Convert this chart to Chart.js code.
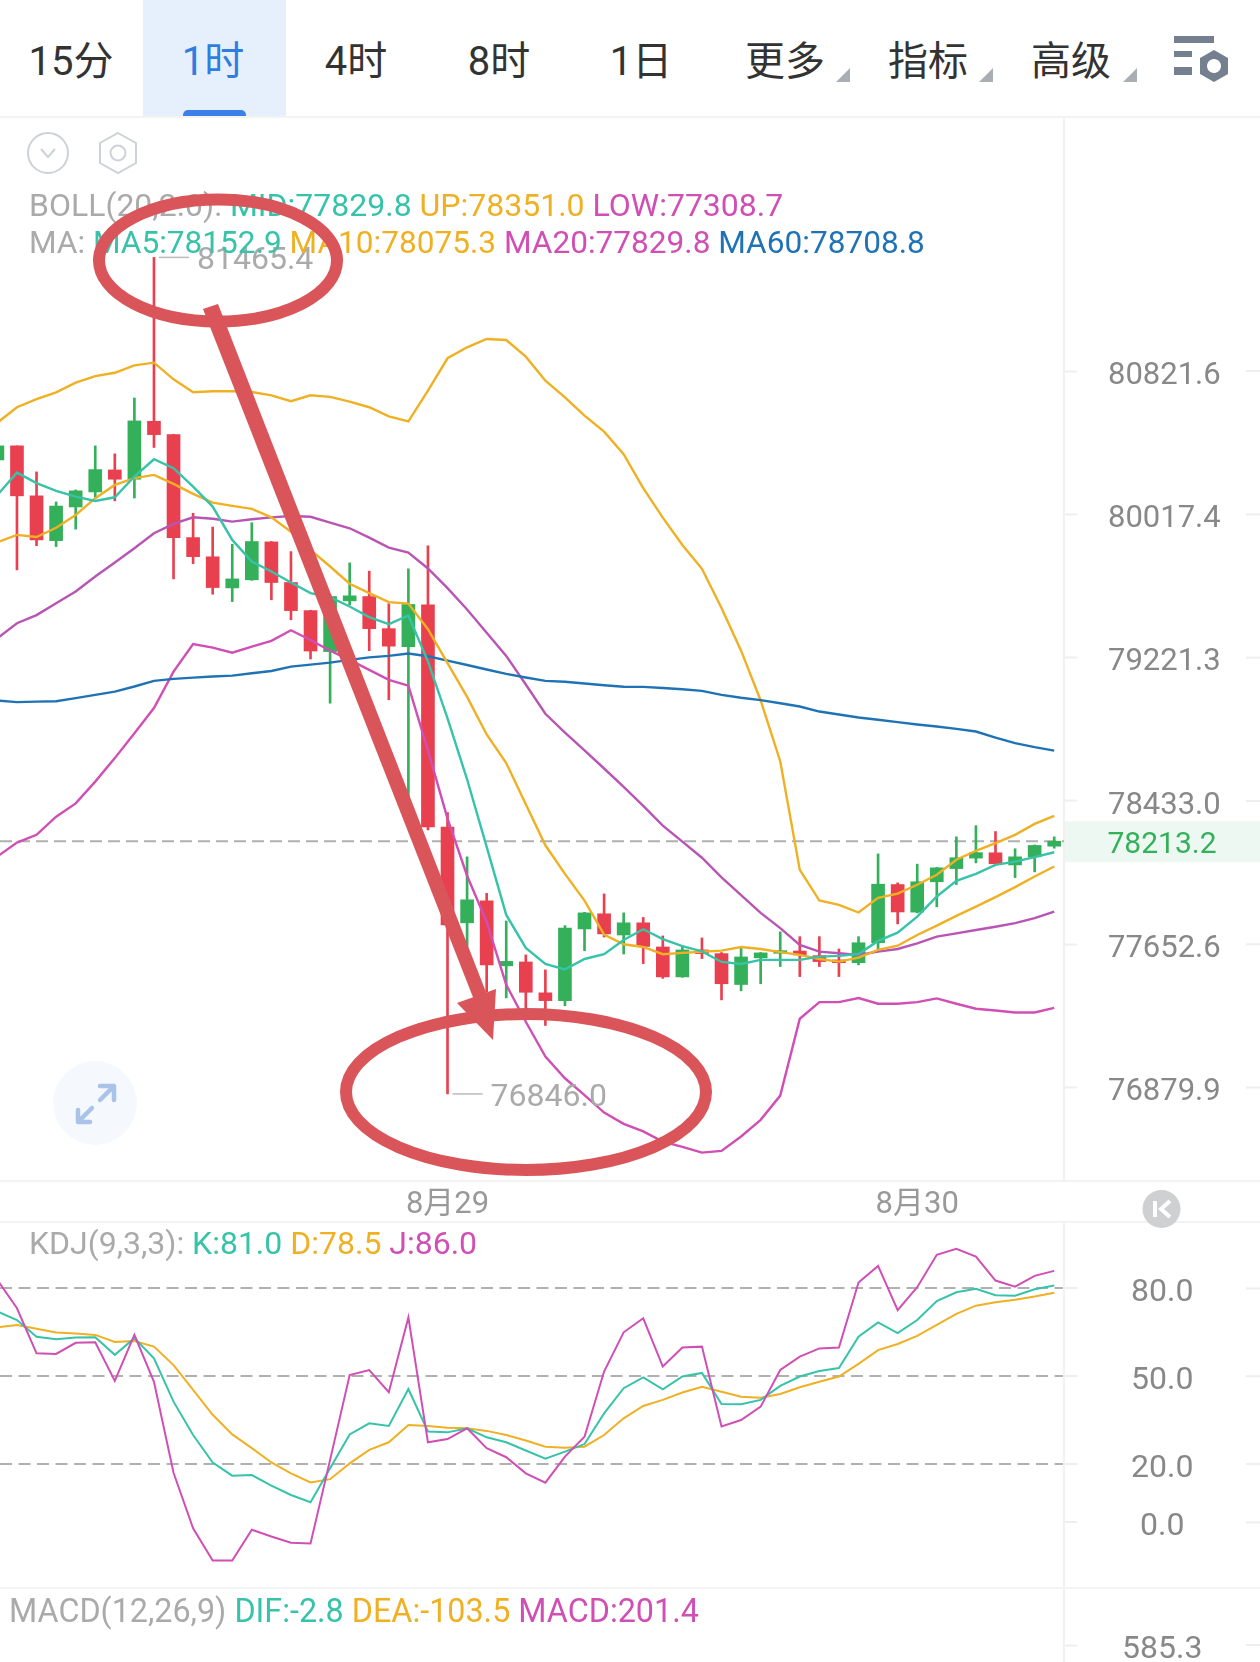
<!DOCTYPE html>
<html>
<head>
<meta charset="utf-8">
<script src="https://cdn.jsdelivr.net/npm/chart.js@4/dist/chart.umd.min.js"></script>
<style>
html, body { margin: 0; padding: 0; background: #fff; }
#page { position: relative; width: 1260px; height: 1662px; overflow: hidden; background: #fff;
  font-family: Roboto, "Noto Sans CJK SC", sans-serif; }
canvas { position: absolute; left: 0; }
.hr { position: absolute; left: 0; width: 1260px; height: 2px; background: #f3f3f3; }
.tab { position: absolute; top: 32px; width: 142px; text-align: center; font-size: 40px; line-height: 60px;
  color: #333; font-family: Roboto, "Noto Sans CJK SC", sans-serif; font-weight: 400; }
.legend { position: absolute; font-size: 32px; line-height: 36px; white-space: pre; color: #aaa; }
svg { position: absolute; left: 0; top: 0; }
</style>
</head>
<body>
<div id="page">
  <div style="position:absolute;left:143px;top:0;width:143px;height:117px;background:#e6f0fc"></div>
  <div style="position:absolute;left:183px;top:110px;width:63px;height:7px;background:#3a80e8;border-radius:5px 5px 0 0"></div>
  <div id="tabs"></div>
  <div class="hr" style="top:116px"></div>
  <div class="hr" style="top:1180px"></div>
  <div class="hr" style="top:1221px"></div>
  <div class="hr" style="top:1587px"></div>
  <canvas id="priceChart" width="1260" height="1105" style="top:117px"></canvas>
  <canvas id="kdjChart" width="1260" height="366" style="top:1222px"></canvas>
  <canvas id="macdChart" width="1260" height="74" style="top:1588px"></canvas>
  <div class="legend" id="bollLegend" style="left:29px;top:187px"></div>
  <div class="legend" id="maLegend" style="left:29px;top:225px;font-size:31.6px"></div>
  <div class="legend" id="kdjLegend" style="left:29px;top:1225px"></div>
  <div class="legend" id="macdLegend" style="left:9px;top:1593px;font-size:32.3px"></div>
  <svg width="1260" height="1662">
    <!-- tab corner marks -->
    <path d="M850 68V82H836Z M993 68V82H979Z M1137 68V82H1123Z" fill="#a9aeb5"/>
    <!-- settings icon -->
    <g fill="#74808f">
      <rect x="1174" y="36" width="40" height="7"/>
      <rect x="1174" y="51" width="18" height="6"/>
      <rect x="1174" y="67" width="18" height="8"/>
    </g>
    <path d="M1214 50L1228 58V74L1214 82L1200 74V58Z M1214 59a7 7 0 1 0 0.01 0Z" fill="#74808f" fill-rule="evenodd"/>
    <!-- small round buttons -->
    <ellipse cx="48" cy="153" rx="20" ry="20" fill="none" stroke="#cdd2d8" stroke-width="2"/>
    <path d="M41 149L48 157L55 149" fill="none" stroke="#cdd2d8" stroke-width="2"/>
    <path d="M118 133L136 143V163L118 173L100 163V143Z" fill="none" stroke="#cdd2d8" stroke-width="2"/>
    <circle cx="118" cy="153" r="7.5" fill="none" stroke="#cdd2d8" stroke-width="2"/>
    <circle cx="95" cy="1103" r="42" fill="#f5f9fe"/>
    <g fill="none" stroke="#a9c4e8" stroke-width="4.5" stroke-linecap="round" stroke-linejoin="round">
      <path d="M100 1100L114 1086 M100 1086H114V1100"/>
      <path d="M92 1108L78 1122 M78 1110V1122H90"/>
    </g>
    <circle cx="1161.5" cy="1209" r="19" fill="#cfd0d2"/>
    <path d="M1155 1201V1217 M1170 1201L1161 1209L1170 1217" fill="none" stroke="#fff" stroke-width="4"/>
    <!-- hand drawn marks -->
    <g fill="none" stroke="#d9555a" stroke-width="12">
      <ellipse cx="218" cy="260.5" rx="119" ry="61"/>
      <ellipse cx="526" cy="1092" rx="180" ry="78"/>
    </g>
    <path d="M203 309L218 304L491 1005L478 1010Z" fill="#d9555a"/>
    <path d="M493 1040L457 1003L496 989Z" fill="#d9555a"/>
  </svg>
</div>
<script>
// Candles, oldest first. The first one sits half off the left edge
var opens = [80322, 80401, 80121, 79871, 80059, 80143, 80266, 80214, 80539, 80464,
  79888, 79781, 79608, 79653, 79864, 79638, 79482, 79255, 79536, 79560,
  79382, 79282, 79514, 78291, 77769, 77888, 77536, 77557, 77390, 77348,
  77736, 77818, 77703, 77769, 77638, 77476, 77622, 77602, 77435, 77579,
  77604, 77616, 77591, 77568, 77553, 77661, 77977, 77827, 77992, 78064,
  78121, 78150, 78084, 78128, 78186];
var closes = [80401, 80121, 79875, 80064, 80149, 80268, 80214, 80541, 80464, 79888,
  79782, 79610, 79658, 79866, 79638, 79482, 79258, 79560, 79564, 79382,
  79285, 79516, 78291, 77758, 77894, 77541, 77560, 77393, 77348, 77741,
  77823, 77709, 77769, 77641, 77476, 77622, 77602, 77439, 77584, 77606,
  77618, 77595, 77559, 77553, 77661, 77979, 77828, 77992, 78068, 78123,
  78151, 78090, 78128, 78190, 78213.2];
var highs = [80430, 80401, 80255, 80087, 80154, 80401, 80356, 80670, 81465.4, 80466,
  80024, 79947, 79851, 79971, 79866, 79810, 79484, 79570, 79747, 79701,
  79520, 79714, 79842, 78370, 78128, 77929, 77779, 77595, 77514, 77754,
  77826, 77926, 77823, 77798, 77698, 77643, 77687, 77608, 77633, 77608,
  77720, 77694, 77694, 77627, 77694, 78144, 77986, 78088, 78070, 78237,
  78298, 78266, 78172, 78193, 78237];
var lows = [80290, 79708, 79843, 79838, 79935, 80108, 80093, 80109, 80392, 79658,
  79743, 79573, 79532, 79650, 79542, 79431, 79214, 78970, 79514, 79260,
  78989, 78302, 78275, 76846, 77638, 77395, 77363, 77309, 77214, 77320,
  77618, 77692, 77600, 77548, 77468, 77474, 77575, 77352, 77401, 77439,
  77532, 77478, 77532, 77478, 77541, 77627, 77763, 77823, 77856, 77977,
  78095, 78088, 78015, 78046, 78175];

var ma5 = [80126, 80251, 80192, 80149, 80117, 80092, 80113, 80229, 80326, 80276,
  80173, 80061, 79875, 79755, 79699, 79638, 79579, 79557, 79505, 79446,
  79407, 79455, 79201, 78886, 78552, 78182, 77812, 77633, 77546, 77516,
  77573, 77599, 77676, 77734, 77681, 77643, 77614, 77557, 77546, 77568,
  77568, 77568, 77586, 77590, 77600, 77671, 77716, 77803, 77912, 77997,
  78035, 78084, 78102, 78126, 78152.9];
var ma10 = [79862, 79903, 79891, 79943, 80014, 80108, 80182, 80220, 80238, 80188,
  80132, 80083, 80065, 80048, 80001, 79921, 79820, 79727, 79631, 79579,
  79529, 79521, 79379, 79191, 79005, 78798, 78641, 78415, 78191, 78035,
  77890, 77705, 77653, 77638, 77599, 77606, 77612, 77618, 77638, 77627,
  77610, 77595, 77573, 77559, 77580, 77622, 77645, 77703, 77754, 77807,
  77857, 77909, 77963, 78021, 78075.3];
var ma20 = [79329, 79412, 79457, 79523, 79588, 79671, 79749, 79829, 79912, 79964,
  80001, 79993, 79977, 79990, 80001, 80008, 80004, 79971, 79940, 79888,
  79832, 79804, 79716, 79607, 79488, 79359, 79231, 79073, 78912, 78808,
  78710, 78611, 78510, 78406, 78298, 78211, 78123, 78016, 77919, 77823,
  77740, 77649, 77613, 77604, 77595, 77613, 77627, 77658, 77694, 77712,
  77730, 77748, 77767, 77794, 77829.8];
var ma60 = [78985, 78976, 78979, 78981, 78998, 79016, 79034, 79062, 79093, 79104,
  79111, 79117, 79122, 79135, 79148, 79172, 79183, 79194, 79209, 79223,
  79231, 79244, 79229, 79205, 79181, 79156, 79132, 79112, 79093, 79088,
  79079, 79069, 79061, 79060, 79054, 79047, 79038, 79016, 79000, 78987,
  78970, 78952, 78924, 78908, 78891, 78879, 78866, 78853, 78842, 78829,
  78814, 78781, 78750, 78728, 78708.8];
var bollUp = [80531, 80618, 80664, 80702, 80756, 80793, 80812, 80854, 80869, 80775,
  80702, 80708, 80708, 80704, 80685, 80652, 80685, 80676, 80650, 80618,
  80567, 80538, 80712, 80894, 80956, 81003, 80997, 80903, 80767, 80674,
  80571, 80481, 80354, 80164, 79999, 79847, 79714, 79497, 79260, 78985,
  78651, 78057, 77890, 77867, 77825, 77905, 77928, 77976, 78030, 78112,
  78161, 78203, 78248, 78308, 78351.0];
var bollLow = [78130, 78206, 78248, 78347, 78420, 78539, 78668, 78805, 78943, 79144,
  79296, 79277, 79249, 79282, 79314, 79373, 79319, 79260, 79209, 79154,
  79099, 79067, 78710, 78337, 78025, 77774, 77433, 77234, 77047, 76930,
  76840, 76746, 76686, 76645, 76591, 76563, 76532, 76541, 76618, 76707,
  76837, 77250, 77340, 77340, 77362, 77331, 77331, 77340, 77360, 77331,
  77304, 77295, 77284, 77284, 77308.7];

var kLine = [72.1, 69.2, 63.5, 62.6, 63.2, 63.3, 57.3, 63.0, 56.1, 41.3,
  29.9, 20.5, 16.0, 16.2, 12.6, 9.4, 6.9, 18.5, 30.1, 33.9,
  33.0, 45.6, 31.1, 30.8, 32.2, 29.1, 27.4, 24.6, 21.8, 24.2,
  26.8, 37.3, 45.9, 49.6, 45.5, 49.9, 51.1, 40.5, 40.4, 41.9,
  46.7, 49.9, 51.8, 52.8, 63.5, 68.4, 64.7, 69.2, 75.7, 78.7,
  79.9, 77.7, 77.5, 79.7, 81.0];
var dLine = [66.7, 67.5, 66.2, 64.9, 64.6, 64.1, 61.7, 62.0, 60.1, 53.8,
  45.3, 36.8, 30.1, 25.4, 20.5, 16.8, 13.7, 14.8, 20.2, 24.8,
  27.4, 33.3, 33.0, 32.4, 32.2, 31.3, 29.9, 28.0, 25.9, 25.5,
  25.9, 29.9, 35.6, 39.8, 41.9, 44.4, 46.4, 44.7, 43.0, 42.6,
  43.9, 46.2, 48.1, 49.9, 54.2, 58.9, 61.0, 63.8, 67.5, 71.3,
  74.1, 75.3, 76.1, 77.2, 78.5];
var jLine = [82.9, 73.2, 57.8, 57.6, 61.4, 61.6, 48.4, 64.1, 48.1, 17.0,
  -2.0, -13.0, -13.0, -2.5, -4.8, -6.9, -7.2, 21.4, 50.4, 52.1,
  44.5, 70.1, 27.4, 28.5, 32.2, 25.4, 22.3, 16.8, 13.6, 22.5,
  29.3, 51.6, 65.0, 69.8, 53.3, 59.8, 60.1, 32.8, 35.0, 39.6,
  52.1, 56.7, 59.5, 59.8, 82.0, 87.7, 72.6, 80.4, 91.5, 93.5,
  90.9, 82.7, 80.6, 84.3, 86.0];

var priceTicks = [80821.6, 80017.4, 79221.3, 78433.0, 77652.6, 76879.9];
var kdjTicks = [80, 50, 20, 0];
var macdTicks = [585.3];
var dateTicks = [23, 47];
var dateLabels = ["8月29", "8月30"];
var tabNames = ["15分", "1时", "4时", "8时", "1日", "更多", "指标", "高级"];
var tabCenters = [71, 213, 356, 499, 641, 785, 928, 1071];

var TEAL = "#37c3a9", ORANGE = "#efb024", MAGENTA = "#d04fb4", PURPLE = "#b855b4", BLUE = "#1f73b5";
var RED = "#e8404f", GREEN = "#35b05a";
var FONT = 'Roboto, "Noto Sans CJK SC", sans-serif';

var bollText = [["BOLL(20,2.0): ", "#aaa"], ["MID:77829.8 ", TEAL], ["UP:78351.0 ", ORANGE], ["LOW:77308.7", MAGENTA]];
var maText = [["MA: ", "#aaa"], ["MA5:78152.9 ", TEAL], ["MA10:78075.3 ", ORANGE], ["MA20:77829.8 ", MAGENTA], ["MA60:78708.8", BLUE]];
var kdjText = [["KDJ(9,3,3): ", "#aaa"], ["K:81.0 ", TEAL], ["D:78.5 ", ORANGE], ["J:86.0", MAGENTA]];
var macdText = [["MACD(12,26,9) ", "#aaa"], ["DIF:-2.8 ", TEAL], ["DEA:-103.5 ", ORANGE], ["MACD:201.4", MAGENTA]];

function writeLegend(id, parts)
{
    var el = document.getElementById(id);
    for (var i = 0; i < parts.length; i++) {
        var s = document.createElement("span");
        s.textContent = parts[i][0];
        s.style.color = parts[i][1];
        el.appendChild(s);
    }
}
writeLegend("bollLegend", bollText);
writeLegend("maLegend", maText);
writeLegend("kdjLegend", kdjText);
writeLegend("macdLegend", macdText);

for (var t = 0; t < tabNames.length; t++) {
    var tab = document.createElement("div");
    tab.className = "tab";
    tab.textContent = tabNames[t];
    tab.style.left = (tabCenters[t] - 71) + "px";
    if (t == 1) tab.style.color = "#2f7de1";
    document.getElementById("tabs").appendChild(tab);
}

function points(values)
{
    return values.map(function (v, i) { return {x: i, y: v}; });
}

function lineSet(values, color, width)
{
    return {type: "line", data: points(values), borderColor: color, borderWidth: width || 2.4,
        pointRadius: 0, tension: 0, fill: false, order: 0};
}

var candleColors = opens.map(function (o, i) { return closes[i] >= o ? GREEN : RED; });

// tick labels must not push the plot in from the pane edges
function noPadding(s)
{
    s.paddingTop = 0;
    s.paddingBottom = 0;
    s.paddingLeft = 0;
    s.paddingRight = 0;
}

var xAxis = {type: "linear", min: 0.133, max: 54.5, bounds: "data", offset: false, display: false,
    grid: {display: false, offset: false}};

// y axis shared look: fixed gutter width, label in the middle of it
function yAxis(extra, ticks, gap, size)
{
    var axis = {
        position: "right",
        bounds: "data",
        afterFit: function (s) { s.width = 196; noPadding(s); },
        afterBuildTicks: function (s) { s.ticks = ticks.map(function (v) { return {value: v}; }); },
        border: {color: "#f1f1f1", width: 2},
        grid: {drawOnChartArea: false, tickColor: "#eee", tickLength: 13, tickWidth: 2},
        ticks: {autoSkip: false, crossAlign: "center", padding: gap, color: "#888", labelOffset: 5,
            font: {family: FONT, size: size}, callback: function (v) { return Number(v).toFixed(1); }}
    };
    return Object.assign(axis, extra);
}

// the short marks at the far right edge of the gutter
var edgeTicks = {
    id: "edgeTicks",
    afterDraw: function (chart) {
        var c = chart.ctx, s = chart.scales.y;
        c.save();
        c.strokeStyle = "#eee";
        c.lineWidth = 2;
        s.ticks.forEach(function (t) {
            var y = s.getPixelForValue(t.value);
            c.beginPath();
            c.moveTo(1246, y);
            c.lineTo(1260, y);
            c.stroke();
        });
        c.restore();
    }
};

// last price line and its tag, plus the high and low notes
var priceMarks = {
    id: "priceMarks",
    beforeDatasetsDraw: function (chart) {
        var c = chart.ctx, s = chart.scales.y, a = chart.chartArea;
        var last = closes[closes.length - 1], y = s.getPixelForValue(last);
        c.save();
        c.fillStyle = "#eef8f2";
        c.fillRect(a.right + 1, y - 20, 1260 - a.right, 41);
        c.strokeStyle = "#b0b0b0";
        c.lineWidth = 2;
        c.setLineDash([12, 6]);
        c.beginPath();
        c.moveTo(a.left, y);
        c.lineTo(a.right, y);
        c.stroke();
        c.restore();
    },
    afterDatasetsDraw: function (chart) {
        var c = chart.ctx, s = chart.scales.y, x = chart.scales.x;
        var last = closes[closes.length - 1];
        c.save();
        c.font = "30px " + FONT;
        c.textBaseline = "middle";
        c.textAlign = "center";
        c.fillStyle = GREEN;
        c.fillText(last.toFixed(1), 1162, s.getPixelForValue(last) + 4);

        var hi = highs.indexOf(Math.max.apply(null, highs));
        var lo = lows.indexOf(Math.min.apply(null, lows));
        c.font = "32px " + FONT;
        [[hi, highs[hi]], [lo, lows[lo]]].forEach(function (m) {
            var px = x.getPixelForValue(m[0]), py = s.getPixelForValue(m[1]);
            c.strokeStyle = "#bbb";
            c.lineWidth = 1.5;
            c.beginPath();
            c.moveTo(px + 5, py);
            c.lineTo(px + 35, py);
            c.stroke();
            c.fillStyle = "#aaa";
            c.textAlign = "left";
            c.fillText(m[1].toFixed(1), px + 43, py + 4);
        });
        c.restore();
    }
};

new Chart(document.getElementById("priceChart"), {
    type: "bar",
    data: {
        datasets: [
            lineSet(ma5, TEAL),
            lineSet(ma10, ORANGE),
            lineSet(ma60, BLUE),
            lineSet(bollUp, ORANGE),
            lineSet(bollLow, MAGENTA),
            lineSet(ma20, PURPLE),
            {data: opens.map(function (o, i) { return {x: i, y: [o, closes[i]]}; }),
                backgroundColor: candleColors, barThickness: 13, grouped: false, order: 1},
            {data: lows.map(function (l, i) { return {x: i, y: [l, highs[i]]}; }),
                backgroundColor: candleColors, barThickness: 2, grouped: false, order: 2}
        ]
    },
    options: {
        responsive: false,
        animation: false,
        layout: {padding: 0},
        plugins: {legend: {display: false}, tooltip: {enabled: false}},
        scales: {
            x: Object.assign({}, xAxis, {
                display: true,
                afterFit: function (s) { s.height = 42; noPadding(s); },
                afterBuildTicks: function (s) { s.ticks = dateTicks.map(function (v) { return {value: v}; }); },
                border: {display: false},
                grid: {display: false, offset: false, drawTicks: false},
                ticks: {autoSkip: false, maxRotation: 0, padding: 7, color: "#999",
                    font: {family: FONT, size: 31},
                    callback: function (v) { return dateLabels[dateTicks.indexOf(v)]; }}
            }),
            y: yAxis({type: "logarithmic", min: 76385.8, max: 82267.4}, priceTicks, 31, 31)
        }
    },
    plugins: [priceMarks, edgeTicks]
});

var kdjY = yAxis({type: "linear", min: -22.4, max: 102.7}, kdjTicks, 54, 32);
kdjY.grid = {
    drawOnChartArea: true,
    color: function (ctx) { return ctx.tick && ctx.tick.value === 0 ? "rgba(0,0,0,0)" : "#b0b0b0"; },
    lineWidth: 2, tickColor: "#eee", tickLength: 13, tickWidth: 2
};
kdjY.border = {color: "#f1f1f1", width: 2, dash: [12, 6.5]};

new Chart(document.getElementById("kdjChart"), {
    type: "line",
    data: {
        datasets: [lineSet(jLine, MAGENTA, 2), lineSet(kLine, TEAL, 2), lineSet(dLine, ORANGE, 2)]
    },
    options: {
        responsive: false,
        animation: false,
        layout: {padding: 0},
        plugins: {legend: {display: false}, tooltip: {enabled: false}},
        scales: {x: xAxis, y: kdjY}
    },
    plugins: [edgeTicks]
});

// only the top of the MACD pane is in the picture, no bars reach it
new Chart(document.getElementById("macdChart"), {
    type: "line",
    data: {datasets: []},
    options: {
        responsive: false,
        animation: false,
        layout: {padding: 0},
        plugins: {legend: {display: false}, tooltip: {enabled: false}},
        scales: {x: xAxis, y: yAxis({type: "linear", min: 500.3, max: 870.3}, macdTicks, 45, 32)}
    },
    plugins: [edgeTicks]
});
</script>
</body>
</html>
